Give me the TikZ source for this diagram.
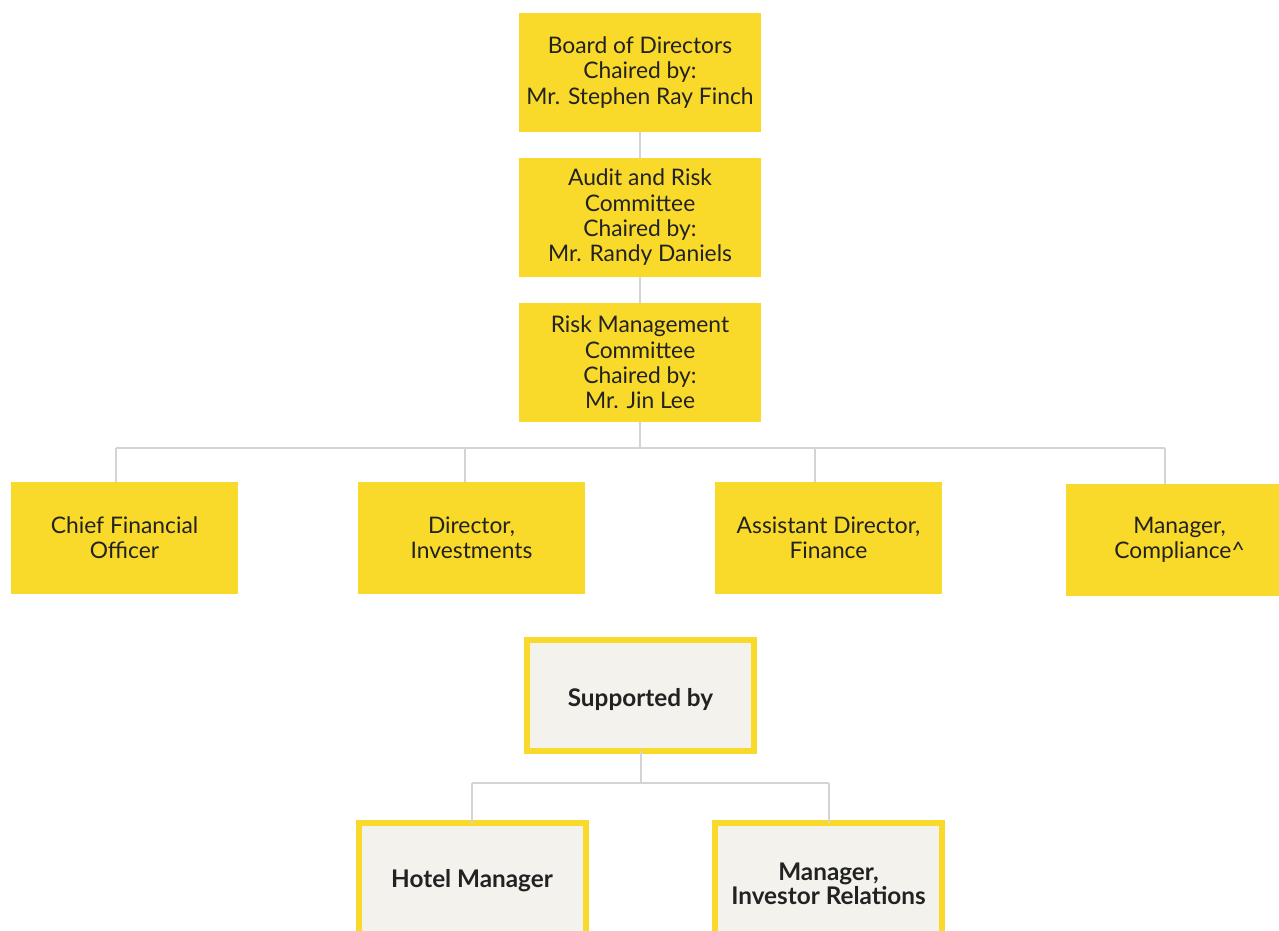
\documentclass[tikz,border=0pt]{standalone}
\usepackage{fontspec}
\setmainfont{Lato}
\definecolor{gold}{HTML}{F9DA2A}
\definecolor{paper}{HTML}{F3F2EC}
\definecolor{wire}{HTML}{D4D4D4}
\definecolor{ink}{HTML}{222222}
\begin{document}
\begin{tikzpicture}[x=1pt,y=-1pt,
  unit/.style={fill=gold, draw=none, align=center, text=ink,
    font=\fontsize{22.8}{25.3}\selectfont, inner sep=0pt},
  topbox/.style={unit, minimum width=242pt, minimum height=119pt},
  rolebox/.style={unit, minimum width=227pt, minimum height=112pt},
  supbox/.style={fill=paper, draw=gold, line width=6pt, inner sep=0pt,
    minimum width=227pt, minimum height=111pt},
  suptext/.style={align=center, text=ink, inner sep=0pt,
    font=\fontsize{24.3}{24}\bfseries\selectfont},
  link/.style={draw=wire, line width=2pt}]
\useasboundingbox (0,0) rectangle (1279,931);
\clip (0,0) rectangle (1279,931);

% Governance chain
\node[topbox] (board) at (640,72.5) {Board of Directors\\Chaired by:\\Mr. Stephen Ray Finch};
\node[topbox] (audit) at (640,217.5) {Audit and Risk\\Committee\\Chaired by:\\Mr. Randy Daniels};
\node[topbox] (risk) at (640,362.5) {Risk Management\\Committee\\Chaired by:\\Mr. Jin Lee};

% Reporting roles
\node[rolebox] (cfo) at (124.5,538) {Chief Financial\\Officer};
\node[rolebox] (dinv) at (471.5,538) {Director,\\Investments};
\node[rolebox] (adf) at (828.5,538) {Assistant Director,\\Finance};
\node[rolebox] (mcomp) at (1179.5,540) {Manager,\\Compliance\^{}};

% Support functions (boxes, then their captions)
\node[supbox] (sup) at (640.5,695.5) {};
\node[supbox] (hotel) at (472,878.5) {};
\node[supbox] (ir) at (828.5,878.5) {};
\node[suptext] (supt) at ([yshift=-3.5pt]sup.center) {Supported by};
\node[suptext] (hotelt) at ([yshift=-2.5pt]hotel.center) {Hotel Manager};
\node[suptext] (irt) at ([yshift=-5.5pt]ir.center) {Manager,\\Investor Relations};

% Connectors
\draw[link] (board.south) -- (audit.north);
\draw[link] (audit.south) -- (risk.north);

\coordinate (bus) at (640,448);
\coordinate (d1) at (116,448);
\coordinate (d2) at (465,448);
\coordinate (d3) at (815,448);
\coordinate (d4) at (1164.5,448);
\draw[link] (risk.south) -- (bus);
\draw[link] (d1) -- (d4);
\draw[link] (d1) -- (d1 |- cfo.north);
\draw[link] (d2) -- (d2 |- dinv.north);
\draw[link] (d3) -- (d3 |- adf.north);
\draw[link] (d4) -- (d4 |- mcomp.north);

\coordinate (sbus) at (640.5,783);
\coordinate (s1) at (471.5,783);
\coordinate (s2) at (828.5,783);
\draw[link] ([yshift=3pt]sup.south) -- (sbus);
\draw[link] (s1) -- (s2);
\draw[link] (s1) -- ([yshift=-3pt]s1 |- hotel.north);
\draw[link] (s2) -- ([yshift=-3pt]s2 |- ir.north);
\end{tikzpicture}
\end{document}
